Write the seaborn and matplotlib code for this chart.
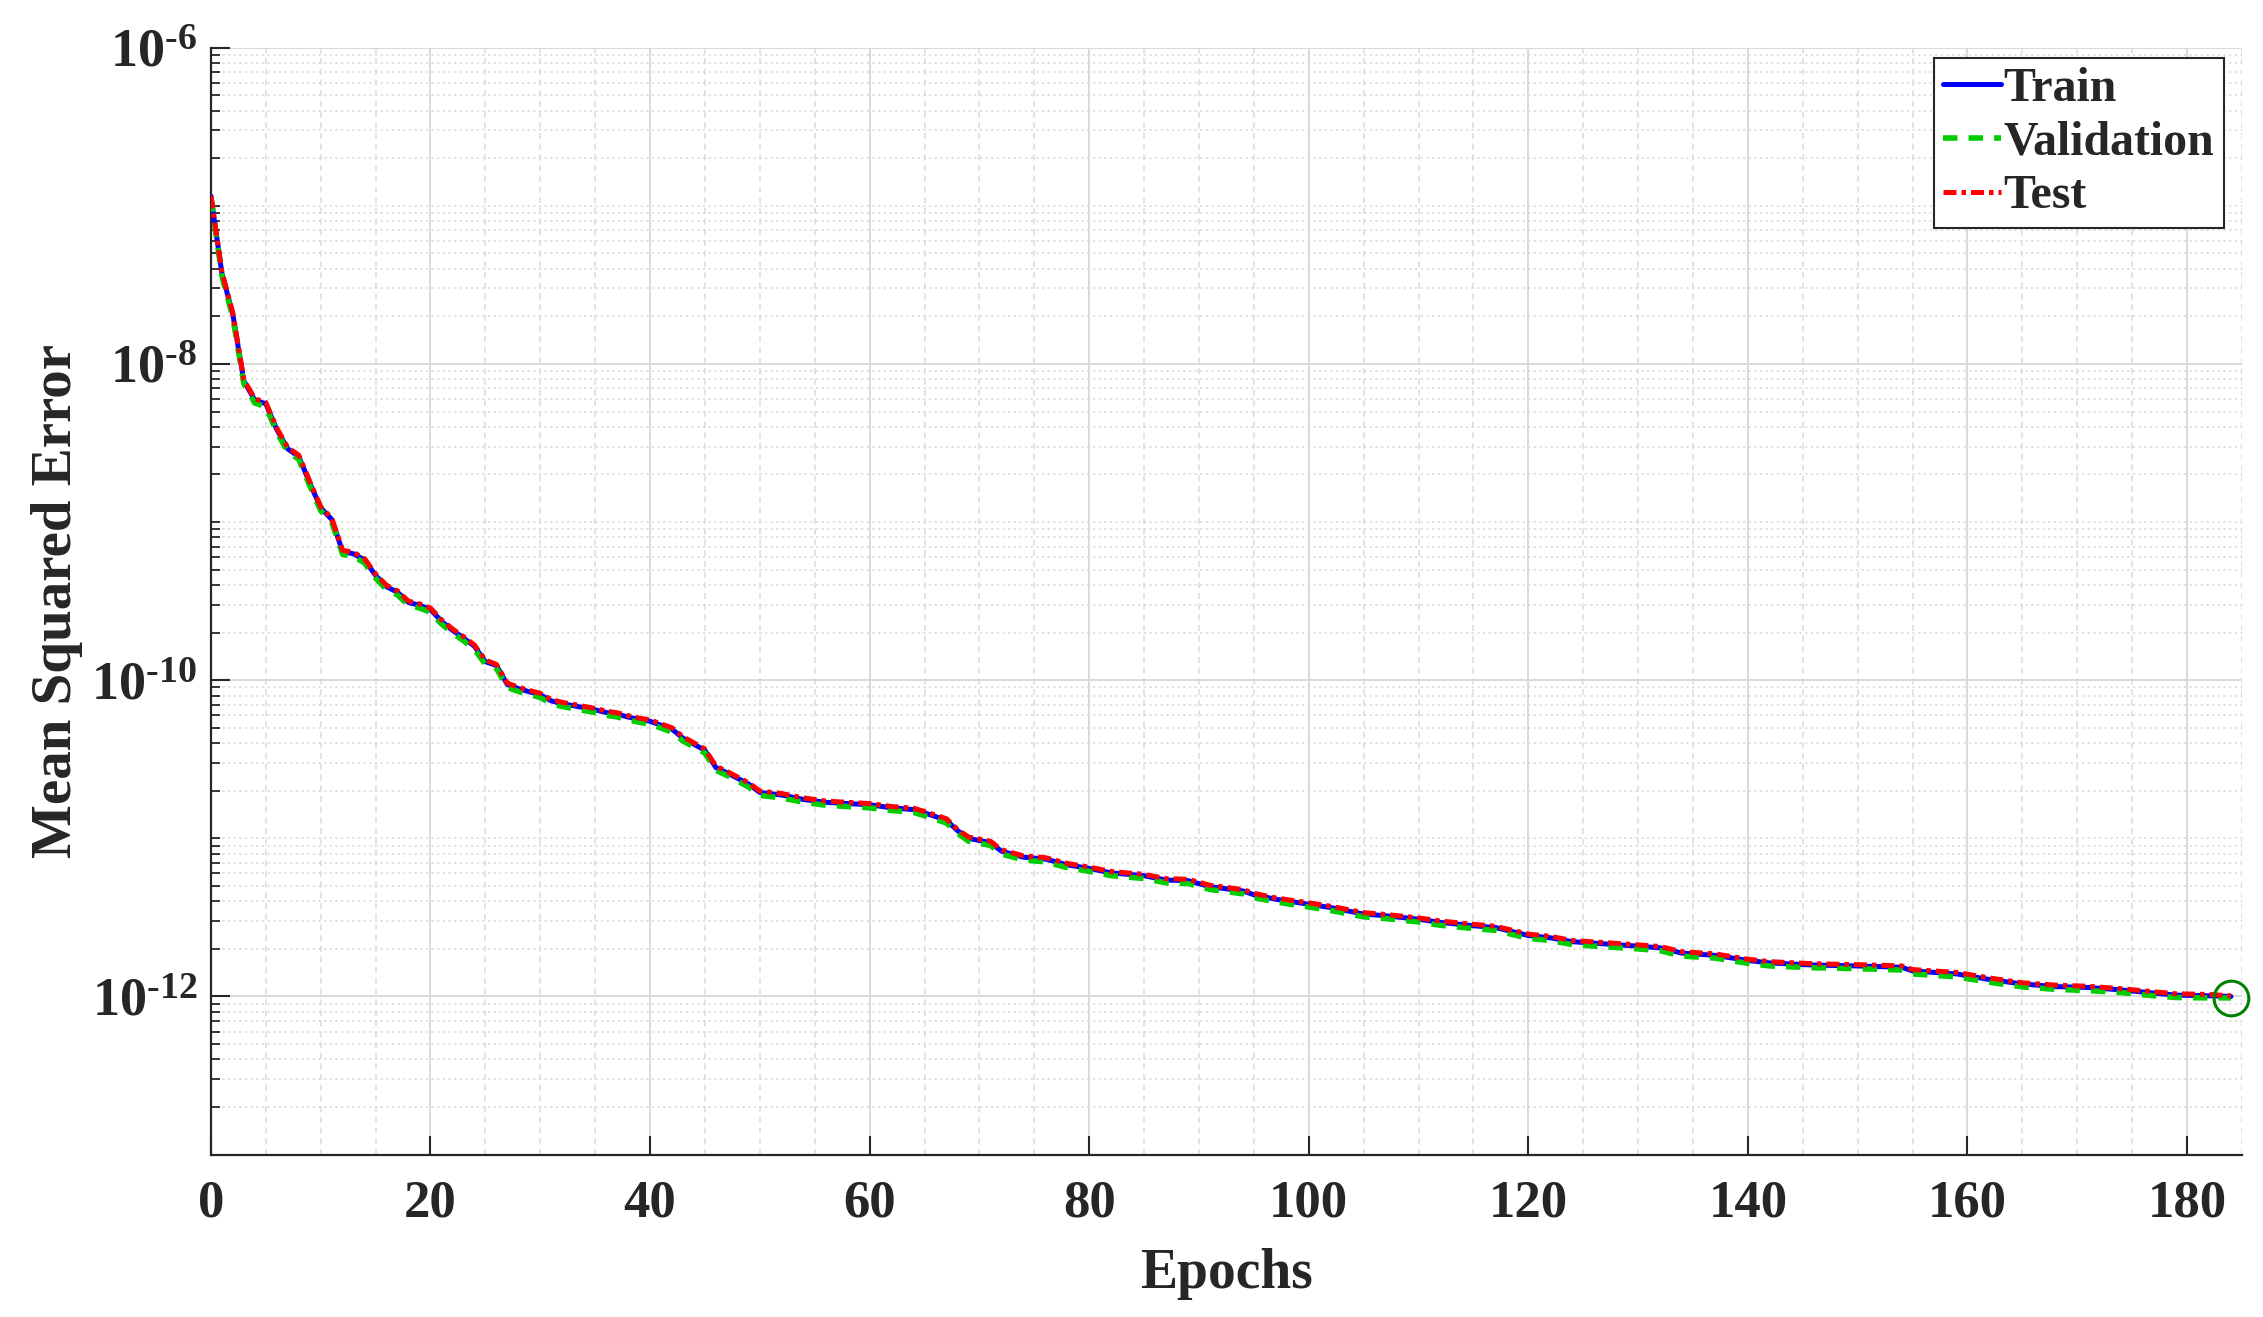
import numpy as np
import pandas as pd
import matplotlib
matplotlib.use("Agg")
import matplotlib.pyplot as plt
import matplotlib.ticker as mticker
import seaborn as sns

# ---------------- data ----------------
epochs = [0, 1, 2, 3, 4, 5, 6, 7, 8, 9, 10, 11, 12, 13, 14, 15, 16, 17, 18, 19,
          20, 21, 22, 23, 24, 25, 26, 27, 28, 29, 30, 31, 32, 33, 34, 35, 36, 37, 38, 39,
          40, 42, 43, 45, 46, 47, 49, 50, 52, 54, 56, 58, 60, 62, 64, 65, 67, 68, 69, 71,
          72, 74, 76, 78, 80, 82, 85, 87, 89, 91, 94, 95, 97, 100, 102, 105, 107, 110, 112, 115,
          117, 120, 122, 124, 127, 130, 132, 134, 137, 140, 142, 146, 150, 154, 155, 159, 162, 165, 168, 171,
          174, 177, 179, 182, 184]

train_mse = [1.15e-7, 3.75e-8, 2.05e-8, 7.8e-9, 5.9e-9, 5.6e-9, 3.85e-9, 2.9e-9, 2.6e-9, 1.77e-9,
             1.23e-9, 1.04e-9, 6.5e-10, 6.3e-10, 5.75e-10, 4.6e-10, 3.9e-10, 3.6e-10, 3.1e-10, 2.98e-10,
             2.8e-10, 2.36e-10, 2.07e-10, 1.85e-10, 1.64e-10, 1.31e-10, 1.24e-10, 9.4e-11, 8.85e-11, 8.45e-11,
             8.1e-11, 7.4e-11, 7.1e-11, 6.9e-11, 6.7e-11, 6.5e-11, 6.25e-11, 6.1e-11, 5.85e-11, 5.65e-11,
             5.5e-11, 4.9e-11, 4.3e-11, 3.6e-11, 2.8e-11, 2.6e-11, 2.2e-11, 1.95e-11, 1.88e-11, 1.76e-11,
             1.69e-11, 1.66e-11, 1.63e-11, 1.56e-11, 1.52e-11, 1.45e-11, 1.3e-11, 1.12e-11, 1.0e-11, 9.4e-12,
             8.3e-12, 7.6e-12, 7.4e-12, 6.8e-12, 6.45e-12, 6.05e-12, 5.8e-12, 5.45e-12, 5.4e-12, 4.95e-12,
             4.65e-12, 4.4e-12, 4.12e-12, 3.83e-12, 3.65e-12, 3.32e-12, 3.24e-12, 3.08e-12, 2.94e-12, 2.8e-12,
             2.73e-12, 2.43e-12, 2.35e-12, 2.22e-12, 2.15e-12, 2.08e-12, 2.03e-12, 1.88e-12, 1.82e-12, 1.69e-12,
             1.63e-12, 1.58e-12, 1.56e-12, 1.53e-12, 1.45e-12, 1.39e-12, 1.28e-12, 1.2e-12, 1.155e-12, 1.14e-12,
             1.1e-12, 1.05e-12, 1.02e-12, 1.01e-12, 1.0e-12]

val_mse = [1.13e-7, 3.6e-8, 1.97e-8, 7.5e-9, 5.66e-9, 5.38e-9, 3.7e-9, 2.78e-9, 2.5e-9, 1.7e-9,
           1.18e-9, 1.0e-9, 6.24e-10, 6.05e-10, 5.52e-10, 4.42e-10, 3.74e-10, 3.46e-10, 2.98e-10, 2.86e-10,
           2.69e-10, 2.27e-10, 1.99e-10, 1.78e-10, 1.57e-10, 1.26e-10, 1.19e-10, 9.02e-11, 8.5e-11, 8.11e-11,
           7.78e-11, 7.1e-11, 6.82e-11, 6.62e-11, 6.43e-11, 6.24e-11, 6.0e-11, 5.86e-11, 5.62e-11, 5.42e-11,
           5.28e-11, 4.7e-11, 4.13e-11, 3.46e-11, 2.69e-11, 2.5e-11, 2.11e-11, 1.87e-11, 1.8e-11, 1.69e-11,
           1.62e-11, 1.59e-11, 1.56e-11, 1.5e-11, 1.46e-11, 1.39e-11, 1.25e-11, 1.08e-11, 9.6e-12, 9.02e-12,
           7.97e-12, 7.3e-12, 7.1e-12, 6.53e-12, 6.19e-12, 5.81e-12, 5.57e-12, 5.23e-12, 5.18e-12, 4.75e-12,
           4.46e-12, 4.22e-12, 3.96e-12, 3.68e-12, 3.5e-12, 3.19e-12, 3.11e-12, 2.96e-12, 2.82e-12, 2.69e-12,
           2.62e-12, 2.33e-12, 2.26e-12, 2.13e-12, 2.06e-12, 2.0e-12, 1.95e-12, 1.8e-12, 1.75e-12, 1.62e-12,
           1.56e-12, 1.52e-12, 1.5e-12, 1.47e-12, 1.39e-12, 1.33e-12, 1.23e-12, 1.15e-12, 1.11e-12, 1.09e-12,
           1.06e-12, 1.01e-12, 9.85e-13, 9.8e-13, 9.8e-13]

test_mse = [1.16e-7, 3.82e-8, 2.09e-8, 7.95e-9, 6.02e-9, 5.71e-9, 3.93e-9, 2.96e-9, 2.65e-9, 1.81e-9,
            1.25e-9, 1.06e-9, 6.63e-10, 6.43e-10, 5.87e-10, 4.69e-10, 3.98e-10, 3.67e-10, 3.16e-10, 3.04e-10,
            2.86e-10, 2.41e-10, 2.11e-10, 1.89e-10, 1.67e-10, 1.34e-10, 1.26e-10, 9.59e-11, 9.03e-11, 8.62e-11,
            8.26e-11, 7.55e-11, 7.24e-11, 7.04e-11, 6.83e-11, 6.63e-11, 6.38e-11, 6.22e-11, 5.97e-11, 5.76e-11,
            5.61e-11, 5.0e-11, 4.39e-11, 3.67e-11, 2.86e-11, 2.65e-11, 2.24e-11, 1.99e-11, 1.92e-11, 1.8e-11,
            1.72e-11, 1.69e-11, 1.66e-11, 1.59e-11, 1.55e-11, 1.48e-11, 1.33e-11, 1.14e-11, 1.02e-11, 9.59e-12,
            8.47e-12, 7.75e-12, 7.55e-12, 6.94e-12, 6.58e-12, 6.17e-12, 5.92e-12, 5.56e-12, 5.51e-12, 5.05e-12,
            4.74e-12, 4.49e-12, 4.2e-12, 3.91e-12, 3.72e-12, 3.39e-12, 3.3e-12, 3.14e-12, 3.0e-12, 2.86e-12,
            2.78e-12, 2.48e-12, 2.4e-12, 2.26e-12, 2.19e-12, 2.12e-12, 2.07e-12, 1.92e-12, 1.86e-12, 1.72e-12,
            1.66e-12, 1.61e-12, 1.59e-12, 1.56e-12, 1.48e-12, 1.42e-12, 1.31e-12, 1.22e-12, 1.18e-12, 1.16e-12,
            1.12e-12, 1.07e-12, 1.04e-12, 1.03e-12, 1.01e-12]

series_names = ["Train", "Validation", "Test"]
best_epoch = 184
best_val = 9.8e-13

x_ticks = [0, 20, 40, 60, 80, 100, 120, 140, 160, 180]
y_major = [1e-12, 1e-10, 1e-8, 1e-6]
y_major_labels = [r"$\mathbf{10^{\text{-}12}}$", r"$\mathbf{10^{\text{-}10}}$",
                  r"$\mathbf{10^{\text{-}8}}$", r"$\mathbf{10^{\text{-}6}}$"]
x_label = "Epochs"
y_label = "Mean Squared Error"

# ---------------- style ----------------
sns.set_theme(style="white")
plt.rcParams["font.family"] = ["Liberation Serif", "DejaVu Serif"]
plt.rcParams["font.weight"] = "bold"
plt.rcParams["mathtext.fontset"] = "custom"
plt.rcParams["mathtext.rm"] = "Liberation Serif:bold"
plt.rcParams["mathtext.bf"] = "Liberation Serif:bold"
plt.rcParams["mathtext.it"] = "Liberation Serif:bold:italic"

fig = plt.figure(figsize=(22.63, 13.17), dpi=100)
ax = fig.add_axes([0.0932, 0.1233, 0.8975, 0.8405])

df = pd.DataFrame({"epoch": epochs, "Train": train_mse,
                   "Validation": val_mse, "Test": test_mse})

sns.lineplot(data=df, x="epoch", y="Train", ax=ax, color=(0, 0, 1),
             linewidth=3.6, linestyle="-", label=series_names[0], zorder=3)
sns.lineplot(data=df, x="epoch", y="Validation", ax=ax, color=(0, 0.8, 0),
             linewidth=4.0, linestyle="--", label=series_names[1], zorder=4)
sns.lineplot(data=df, x="epoch", y="Test", ax=ax, color=(1, 0, 0),
             linewidth=3.6, linestyle="-.", label=series_names[2], zorder=5)
lines = ax.get_lines()
lines[1].set_dashes((2.6, 2.0))
lines[2].set_dashes((2.6, 1.0, 0.9, 1.0))

ax.plot([best_epoch], [best_val], marker="o", markersize=25, markerfacecolor="none",
        markeredgecolor=(0, 0.5, 0), markeredgewidth=2.2, linestyle="none", zorder=6,
        clip_on=False)

ax.set_yscale("log")
ax.set_xlim(0, 185)
ax.set_ylim(1e-13, 1e-6)

ax.xaxis.set_major_locator(mticker.FixedLocator(x_ticks))
ax.xaxis.set_minor_locator(mticker.MultipleLocator(5))
ax.set_xticklabels([str(t) for t in x_ticks])

ax.yaxis.set_major_locator(mticker.FixedLocator(y_major))
ax.yaxis.set_major_formatter(mticker.FixedFormatter(y_major_labels))
minor_pos = []
for e in range(-13, -6):
    for k in range(1, 10):
        v = k * 10.0 ** e
        if k == 1 and e in (-12, -10, -8):
            continue
        minor_pos.append(v)
ax.yaxis.set_minor_locator(mticker.FixedLocator(minor_pos))
ax.yaxis.set_minor_formatter(mticker.NullFormatter())

tick_color = (0.15, 0.15, 0.15)
ax.tick_params(axis="x", which="major", direction="in", length=14, width=1.5,
               colors=tick_color, labelsize=38, pad=18, top=False, bottom=True)
ax.tick_params(axis="x", which="minor", length=0)
ax.tick_params(axis="y", which="major", direction="in", length=14, width=1.5,
               colors=tick_color, labelsize=39, pad=10, left=True, right=False)
ax.tick_params(axis="y", which="minor", direction="in", length=6.5, width=1.3,
               colors=tick_color, left=True, right=False)
for lab in ax.get_xticklabels() + ax.get_yticklabels():
    lab.set_fontweight("bold")
    lab.set_color(tick_color)

ax.grid(True, which="major", axis="both", color=(0.85, 0.85, 0.85), linewidth=1.4, linestyle="-")
ax.grid(True, which="minor", axis="x", color=(0.86, 0.86, 0.86), linewidth=1.1, linestyle=(0, (4, 3)))
ax.grid(True, which="minor", axis="y", color=(0.85, 0.85, 0.85), linewidth=1.1, linestyle=(0, (1.5, 2.2)))
ax.set_axisbelow(True)

for side in ("top", "right"):
    ax.spines[side].set_visible(False)
for side in ("left", "bottom"):
    ax.spines[side].set_color(tick_color)
    ax.spines[side].set_linewidth(1.6)

ax.set_xlabel(x_label, fontsize=40, fontweight="bold", color=tick_color, labelpad=15)
ax.set_ylabel(y_label, fontsize=41, fontweight="bold", color=tick_color, labelpad=6)

leg = ax.legend(loc="upper right", bbox_to_anchor=(0.991, 0.991), borderaxespad=0,
                frameon=True, fancybox=False, framealpha=1,
                edgecolor=(0.15, 0.15, 0.15), handlelength=1.2,
                handletextpad=0.05, borderpad=0.2, labelspacing=0.2,
                prop={"weight": "bold", "size": 34.5})
leg.get_frame().set_linewidth(1.5)

fig.savefig("out.png", dpi=100)
